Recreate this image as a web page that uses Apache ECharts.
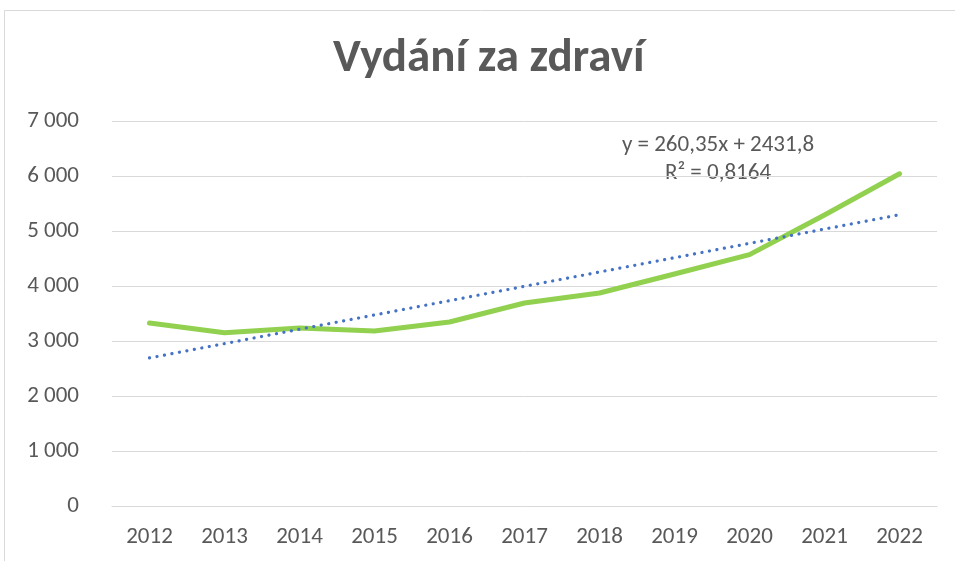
<!DOCTYPE html>
<html>
<head>
    <meta charset="utf-8">
    <title>Vydání za zdraví</title>
    <script src="https://cdn.jsdelivr.net/npm/echarts@6/dist/echarts.min.js"></script>
    <style>
        html, body { margin: 0; padding: 0; background: #fff; }
        #main { width: 955px; height: 561px; }
    </style>
</head>
<body>
    <div id="main"></div>
    <script type="text/javascript">
        // hodnoty
        var years = ['2012', '2013', '2014', '2015', '2016', '2017', '2018', '2019', '2020', '2021', '2022'];
        var vydani = [3327, 3150, 3236, 3182, 3345, 3691, 3873, 4218, 4570, 5291, 6040];
        // lineární trend (y = 260,35x + 2431,8)
        var trend = [2692, 2952, 3213, 3473, 3733, 3994, 4254, 4514, 4775, 5035, 5295];
        var trendText = ['y = 260,35x + 2431,8', 'R² = 0,8164'];

        var font = 'Carlito, "Liberation Sans Narrow", "Noto Sans", sans-serif';
        var grey = '#595959';

        var myChart = echarts.init(document.getElementById('main'));

        var option = {
            backgroundColor: '#fff',
            animation: false,
            title: {
                text: 'Vydání za zdraví',
                left: 328,
                top: 31,
                textStyle: {
                    color: grey,
                    fontFamily: font,
                    fontSize: 47,
                    fontWeight: 'bold'
                }
            },
            graphic: [
                {
                    type: 'rect',
                    shape: { x: 4.5, y: 10.5, width: 1000, height: 600 },
                    style: { fill: 'none', stroke: '#d9d9d9', lineWidth: 1 },
                    silent: true
                },
                {
                    type: 'text',
                    x: 718,
                    y: 131,
                    style: {
                        text: trendText.join('\n'),
                        fill: grey,
                        font: '23px ' + font,
                        align: 'center',
                        verticalAlign: 'top',
                        lineHeight: 28
                    }
                }
            ],
            grid: {
                left: 112,
                right: 18,
                top: 121,
                bottom: 55
            },
            xAxis: {
                type: 'category',
                data: years,
                boundaryGap: true,
                axisLine: { lineStyle: { color: '#d9d9d9', width: 1 } },
                axisTick: { show: false },
                axisLabel: {
                    color: grey,
                    fontFamily: font,
                    fontSize: 23,
                    margin: 20
                }
            },
            yAxis: {
                type: 'value',
                min: 0,
                max: 7000,
                interval: 1000,
                axisLine: { show: false },
                axisTick: { show: false },
                splitLine: { lineStyle: { color: '#d9d9d9', width: 1 } },
                axisLabel: {
                    color: grey,
                    fontFamily: font,
                    fontSize: 23,
                    margin: 33,
                    formatter: function (v) {
                        return String(v).replace(/\B(?=(\d{3})+(?!\d))/g, ' ');
                    }
                }
            },
            series: [
                {
                    name: 'Vydání',
                    type: 'line',
                    data: vydani,
                    symbol: 'none',
                    lineStyle: { color: '#92D050', width: 5, cap: 'round', join: 'round' },
                    z: 3
                },
                {
                    name: 'Lineární trend',
                    type: 'line',
                    data: trend,
                    symbol: 'none',
                    lineStyle: { color: '#4472C4', width: 3.2, type: [0.1, 7.5], cap: 'round' },
                    z: 4
                }
            ]
        };

        myChart.setOption(option);
    </script>
</body>
</html>
